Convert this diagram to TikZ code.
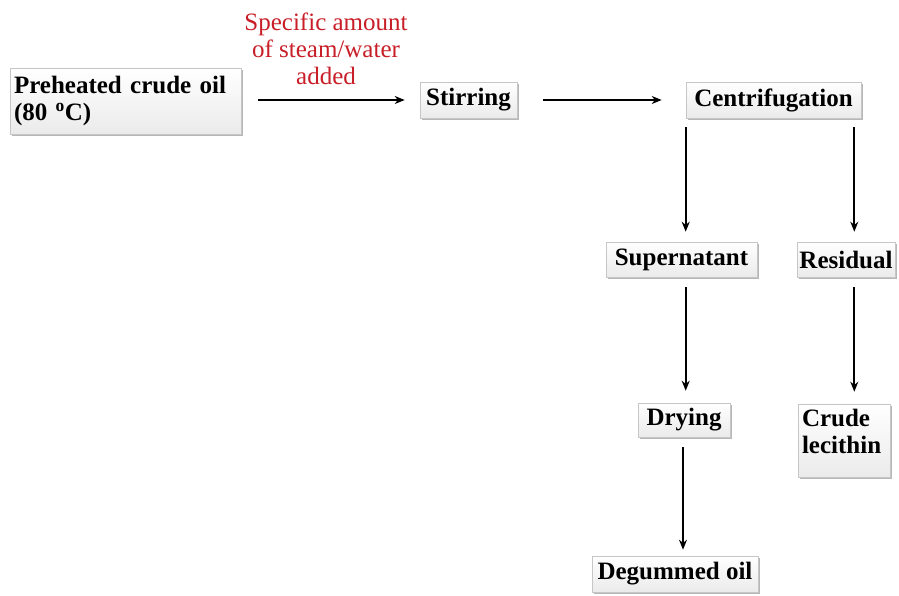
\documentclass[tikz,border=0pt]{standalone}
\usepackage{fontspec}
\setmainfont{Liberation Serif}
\usetikzlibrary{shadows,arrows.meta}
\definecolor{redtxt}{RGB}{200,30,40}
\tikzset{
  x=1pt,y=1pt,
  box/.style={draw=gray!45, line width=0.6pt, top color=white, bottom color=gray!16,
    drop shadow={shadow xshift=2pt, shadow yshift=-2pt, fill=gray!75, opacity=0.75},
    inner sep=0pt, font=\fontsize{25}{27}\selectfont\bfseries, align=center},
  arr/.style={line width=2pt, -{Stealth[length=10pt,width=8pt]}}
}
\begin{document}
\begin{tikzpicture}
\useasboundingbox (0,0) rectangle (899,-595);
\node[box, minimum width=231pt, minimum height=66pt, align=left, text width=223pt] (pre) at (125.5,-101) {Preheated crude oil\\(80 \textsuperscript{o}C)};
\node[box, minimum width=97pt, minimum height=36pt] (stir) at (468.5,-100) {Stirring};
\node[box, minimum width=175pt, minimum height=36pt] (cent) at (773.5,-100) {Centrifugation};
\node[box, minimum width=151pt, minimum height=35pt] (sup) at (681.5,-259.5) {Supernatant};
\node[box, minimum width=98pt, minimum height=35pt] (res) at (846,-259.5) {Residual};
\node[box, minimum width=92pt, minimum height=34pt] (dry) at (684,-420) {Drying};
\node[box, minimum width=92pt, minimum height=73pt, align=left, text width=84pt] (lec) at (844,-440.5) {Crude\\lecithin\rule[-19pt]{0pt}{1pt}};
\node[box, minimum width=166pt, minimum height=36pt] (deg) at (675,-574) {Degummed oil};
\node[text=redtxt, font=\fontsize{25}{27}\selectfont, align=center] (note) at (326,-49) {Specific amount\\of steam/water\\added};
\draw[arr, shorten <=17pt, shorten >=15pt] (pre.east |- stir.west) -- (stir.west);
\draw[arr, shorten <=26pt, shorten >=24pt] (stir.east) -- (cent.west);
\coordinate (cl) at ([yshift=-9pt]cent.south west);
\coordinate (cr) at ([xshift=-7pt,yshift=-9pt]cent.south east);
\draw[arr] (cl) -- ([yshift=10pt]sup.north -| cl);
\draw[arr] (cr) -- ([yshift=10pt]res.north -| cr);
\draw[arr] ([yshift=-10pt]sup.south -| cl) -- ([yshift=12pt]dry.north -| cl);
\draw[arr] ([yshift=-10pt]res.south -| cr) -- ([yshift=12pt]lec.north -| cr);
\coordinate (dl) at ([xshift=-1pt,yshift=-10pt]dry.south);
\draw[arr] (dl) -- ([yshift=6pt]deg.north -| dl);
\end{tikzpicture}
\end{document}
